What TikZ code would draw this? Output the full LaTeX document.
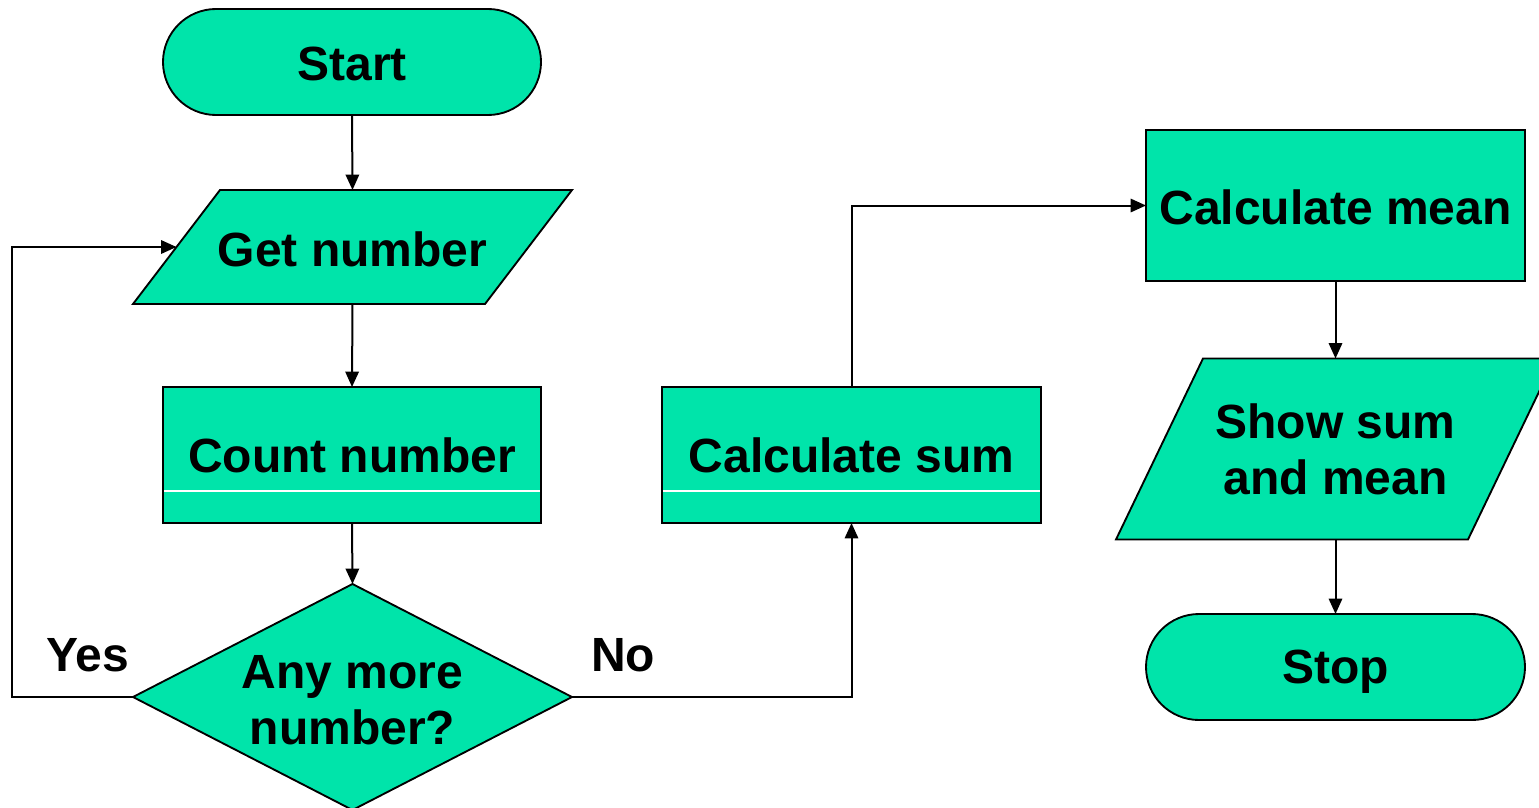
\documentclass[tikz,border=0pt]{standalone}
\usepackage{fontspec}
\setmainfont{Liberation Sans}
\usetikzlibrary{shapes.geometric,shapes.misc,arrows.meta,backgrounds}
\definecolor{fc}{HTML}{00E4AA}
\newcommand{\lowerby}[2]{\raisebox{-#1}[\height][\depth]{#2}}
\begin{document}
\begin{tikzpicture}[x=0.75pt,y=-0.75pt,
  lbl/.style={font=\fontsize{36}{42}\selectfont\bfseries, align=center, inner sep=0pt},
  box/.style={lbl, draw=black, line width=1.4pt, fill=fc, outer sep=0pt},
  term/.style={box, rounded rectangle},
  procbox/.style={box, rectangle},
  iobox/.style={lbl, rectangle, outer sep=0pt},
  ioshape/.style={draw=black, line width=1.4pt, fill=fc},
  decbox/.style={draw=black, line width=1.4pt, fill=fc, diamond, inner sep=0pt, outer sep=0pt},
  arr/.style={line width=1.5pt, -{Triangle[length=11.5pt,width=10pt]}},
  sep/.style={white, line width=0.8pt}]
\useasboundingbox (0,0) rectangle (1539,807);

\node[term, minimum width=378*0.75pt, minimum height=106*0.75pt] (start) at (352,62) {\lowerby{1.5pt}{Start}};
\node[iobox, minimum width=352*0.75pt, minimum height=114*0.75pt] (gn) at (352.5,247) {\lowerby{1.5pt}{Get number}};
\node[procbox, minimum width=378*0.75pt, minimum height=136*0.75pt] (count) at (352,455) {Count number};
\node[decbox, minimum width=439*0.75pt, minimum height=226*0.75pt] (dec) at (352.5,697) {};
\node[lbl] (dect) at (352.5,700) {Any more\\number?};
\node[procbox, minimum width=379*0.75pt, minimum height=151*0.75pt] (mean) at (1335.5,205.5) {\lowerby{1.5pt}{Calculate mean}};
\node[procbox, minimum width=379*0.75pt, minimum height=136*0.75pt] (sum) at (851.5,455) {Calculate sum};
\node[iobox, minimum width=352*0.75pt, minimum height=181*0.75pt] (show) at (1335.5,449) {Show sum\\and mean};
\node[term, minimum width=379*0.75pt, minimum height=106*0.75pt] (stop) at (1335.5,667) {\lowerby{3.75pt}{Stop}};

\node[lbl] (yes) at (88,655) {Yes};
\node[lbl] (no) at (623,655) {No};

\begin{scope}[on background layer]
\draw[ioshape] ([xshift=43.5*0.75pt]gn.north west) -- ([xshift=43.5*0.75pt]gn.north east)
  -- ([xshift=-43.5*0.75pt]gn.south east) -- ([xshift=-43.5*0.75pt]gn.south west) -- cycle;
\draw[ioshape] ([xshift=43.5*0.75pt]show.north west) -- ([xshift=43.5*0.75pt]show.north east)
  -- ([xshift=-43.5*0.75pt]show.south east) -- ([xshift=-43.5*0.75pt]show.south west) -- cycle;
\end{scope}

\draw[sep] ([xshift=1pt,yshift=-36*0.75pt]count.west) -- ([xshift=-1pt,yshift=-36*0.75pt]count.east);
\draw[sep] ([xshift=1pt,yshift=-36*0.75pt]sum.west) -- ([xshift=-1pt,yshift=-36*0.75pt]sum.east);

\draw[arr] (start.south) -- (gn.north);
\draw[arr] (gn.south) -- (count.north);
\draw[arr] (count.south) -- (dec.north);
\draw[arr] (dec.west) -- ++(-121,0) |- (gn.west);
\draw[arr] (dec.east) -| (sum.south);
\draw[arr] (sum.north) |- (mean.west);
\draw[arr] (mean.south) -- (show.north);
\draw[arr] (show.south) -- (stop.north);
\end{tikzpicture}
\end{document}
